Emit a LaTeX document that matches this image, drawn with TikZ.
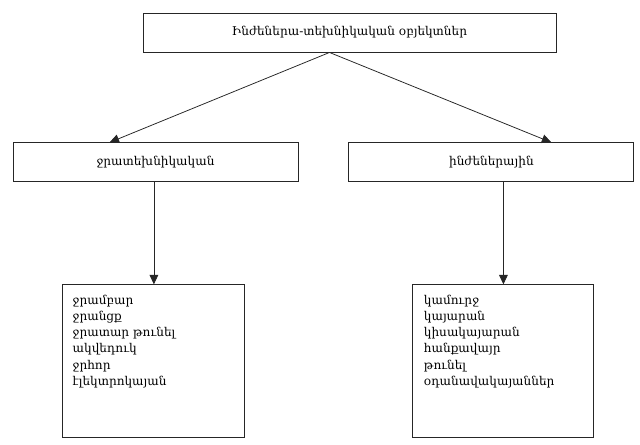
\documentclass[tikz,border=0pt]{standalone}
\usepackage{fontspec}
\usepackage{tikz}
\newfontfamily\armfont{DejaVu Serif}
\usetikzlibrary{positioning,arrows.meta}

\begin{document}
\begin{tikzpicture}[
    box/.style={draw=black!85, line width=0.65pt, fill=white, minimum height=0.975cm, font=\armfont\fontsize{8.6}{11.6}\selectfont},
    items/.style={inner sep=0pt, align=left, font=\armfont\fontsize{8.6}{11.6}\selectfont},
    link/.style={draw=black!85, line width=0.55pt, -{Triangle[length=2.4mm,width=2.2mm]}}
]
    \useasboundingbox (0,0) rectangle (16,-11.1);
    \node[box, minimum width=10.325cm] (objects) at (8.7375,-0.8125) {Ինժեներա-տեխնիկական օբյեկտներ};
    \node[box, minimum width=7.125cm, below=2.25cm of objects, xshift=-4.85cm] (hydro) {ջրատեխնիկական};
    \node[box, minimum width=7.125cm, right=1.25cm of hydro] (eng) {ինժեներային};
    \node[box, minimum width=4.55cm, minimum height=3.825cm, below=2.55cm of hydro, xshift=-0.04cm] (hydrobox) {};
    \node[box, minimum width=4.525cm, minimum height=3.825cm, below=2.55cm of eng, xshift=0.3cm] (engbox) {};
    \node[items, below right=0.25cm and 0.25cm of hydrobox.north west] (hydrolist)
        {ջրամբար\\ ջրանցք\\ ջրատար թունել\\ ակվեդուկ\\ ջրհոր\\ էլեկտրոկայան};
    \node[items, below right=0.25cm and 0.28cm of engbox.north west] (englist)
        {կամուրջ\\ կայարան\\ կիսակայարան\\ հանքավայր\\ թունել\\ օդանավակայաններ};
    \coordinate (fork) at ([xshift=-0.5cm]objects.south);
    \draw[link] (fork) -- ([xshift=-1.15cm]hydro.north);
    \draw[link] (fork) -- ([xshift=1.5cm]eng.north);
    \draw[link] (hydro.south -| hydrobox.north) -- (hydrobox.north);
    \draw[link] (eng.south -| engbox.north) -- (engbox.north);
\end{tikzpicture}
\end{document}
